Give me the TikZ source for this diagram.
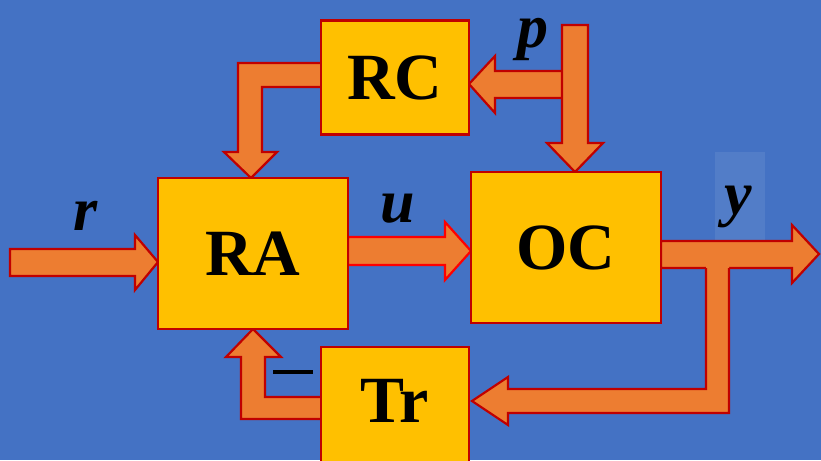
\documentclass[tikz,border=0pt]{standalone}
\usepackage{fontspec}
\setmainfont{Liberation Serif}
\definecolor{bg}{HTML}{4472C4}
\definecolor{boxfill}{HTML}{FFC000}
\definecolor{boxline}{HTML}{C00000}
\definecolor{arrfill}{HTML}{ED7D31}
\definecolor{arrline}{HTML}{C00000}
\tikzset{
  blockbox/.style={draw=boxline, fill=boxfill, line width=2.8pt, inner sep=0pt,
     font=\fontsize{66}{66}\selectfont\bfseries},
  blockarrow/.style={draw=arrline, fill=arrfill, line width=2.2pt, line join=miter},
  arrfillonly/.style={fill=arrfill},
  arrlineonly/.style={draw=arrline, line width=2.2pt, line join=miter},
  sig/.style={anchor=base, inner sep=0pt, font=\fontsize{62}{62}\selectfont\bfseries\itshape},
  boxtext/.style={inner sep=0pt, font=\fontsize{66}{66}\selectfont\bfseries}
}
\begin{document}
\begin{tikzpicture}[x=1pt,y=-1pt]
\fill[bg] (0,0) rectangle (821,460);
\useasboundingbox (0,0) rectangle (821,460);

% highlight behind y
\fill[white, opacity=0.08] (715,152) rectangle (765,240);

% connector arrows (block arrows)
% r -> RA
\draw[blockarrow] (10,249) -- (135,249) -- (135,235) -- (158,262) -- (135,290) -- (135,276) -- (10,276) -- cycle;
% RA -> OC (u)
\draw[blockarrow, draw=red] (348,237) -- (445,237) -- (445,222) -- (471,251) -- (445,280) -- (445,265) -- (348,265) -- cycle;
% OC -> y
\draw[blockarrow] (661,241) -- (792,241) -- (792,225) -- (819,254) -- (792,283) -- (792,268) -- (661,268) -- cycle;
% y feedback -> Tr
\fill[arrfillonly] (706,266) -- (729,266) -- (729,413) -- (508,413) -- (508,425) -- (472,401) -- (508,377) -- (508,389) -- (706,389) -- cycle;
\draw[arrlineonly] (729,268) -- (729,413) -- (508,413) -- (508,425) -- (472,401) -- (508,377) -- (508,389) -- (706,389) -- (706,268);
% p -> RC
\draw[blockarrow] (564,71) -- (495,71) -- (495,56) -- (469,84) -- (495,113) -- (495,98) -- (564,98) -- cycle;
% p -> OC
\draw[blockarrow] (562,25) -- (588,25) -- (588,143) -- (603,143) -- (575,172) -- (547,143) -- (562,143) -- cycle;
% RC -> RA
\draw[blockarrow] (322,63) -- (238,63) -- (238,152) -- (224,152) -- (251,178) -- (277,152) -- (262,152) -- (262,87) -- (322,87) -- cycle;
% Tr -> RA
\draw[blockarrow] (322,397) -- (265,397) -- (265,357) -- (281,357) -- (253,329) -- (226,357) -- (241,357) -- (241,419) -- (322,419) -- cycle;

% blocks
\node[blockbox, minimum width=148pt, minimum height=114pt] (RC) at (395,77.5) {RC};
\node[blockbox, minimum width=190pt, minimum height=151pt] (RA) at (253,253.5) {RA};
\node[blockbox, minimum width=190pt, minimum height=151pt] (OC) at (566,247.5) {OC};
\node[blockbox, minimum width=148pt, minimum height=126pt] (Tr) at (395,410) {};
\node[boxtext] (TrText) at (395,400.5) {Tr};

% signal labels
\node[sig] (p) at (533,48) {p};
\node[sig] (r) at (86,230) {r};
\node[sig] (u) at (398,222) {u};
\node[sig] (y) at (738,214) {y};

% minus sign
\draw[line width=3.5pt] (273,372) -- (313,372);
\end{tikzpicture}
\end{document}
